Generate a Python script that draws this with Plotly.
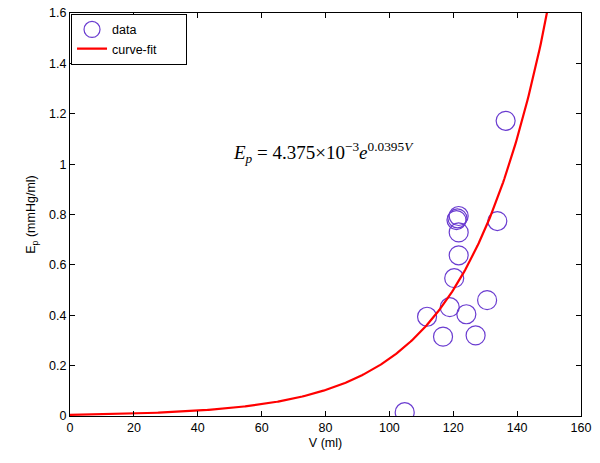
import numpy as np
import plotly.graph_objects as go

# Measured data points (V in ml, Ep in mmHg/ml)
volume_ml = [104.8, 111.8, 116.8, 118.9, 120.3, 121.7, 121.7, 121.0, 121.3, 121.7,
             124.1, 127.0, 130.6, 133.8, 136.4]
ep_values = [0.015, 0.394, 0.315, 0.432, 0.547, 0.638, 0.729, 0.778, 0.785, 0.794,
             0.404, 0.320, 0.460, 0.774, 1.172]

# Curve-fit parameters as given in the chart annotation: Ep = A * exp(B * V)
fit_A = 4.375e-3
fit_B = 0.0395
fit_V = np.linspace(0, 152, 400)
fit_E = fit_A * np.exp(fit_B * fit_V)

x_ticks = [0, 20, 40, 60, 80, 100, 120, 140, 160]
y_ticks = [0, 0.2, 0.4, 0.6, 0.8, 1.0, 1.2, 1.4, 1.6]
y_tick_text = ["0", "0.2", "0.4", "0.6", "0.8", "1", "1.2", "1.4", "1.6"]

fig = go.Figure()
fig.add_trace(go.Scatter(
    x=volume_ml, y=ep_values, mode="markers", name="data",
    marker=dict(symbol="circle-open", size=19, color="#6a3cd0", line=dict(width=1.2)),
))
fig.add_trace(go.Scatter(
    x=fit_V, y=fit_E, mode="lines", name="curve-fit\u00a0\u00a0\u00a0\u00a0\u00a0\u00a0\u00a0",
    line=dict(color="#ff0000", width=2.2),
))

axis_common = dict(
    showgrid=False, zeroline=False, showline=True, linecolor="black", linewidth=1,
    mirror="ticks", ticks="inside", ticklen=5, tickcolor="black", automargin=False,
    ticklabeloverflow="allow",
    tickfont=dict(family="Liberation Sans, Arial", size=12.5, color="black"),
)

fig.update_layout(
    width=600, height=463,
    margin=dict(l=69.5, r=18.5, t=13, b=47, autoexpand=False),
    paper_bgcolor="white", plot_bgcolor="white",
    font=dict(family="Liberation Sans, Arial", size=12, color="black"),
    xaxis=dict(range=[0, 160], tickvals=x_ticks,
               title=dict(text="V (ml)", standoff=4, font=dict(size=12.5)), **axis_common),
    yaxis=dict(range=[0, 1.6], tickvals=y_ticks, ticktext=y_tick_text,
               title=dict(text="E<sub>p</sub> (mmHg/ml)", standoff=10, font=dict(size=12.5)),
               **axis_common),
    legend=dict(x=0.002, y=0.998, xanchor="left", yanchor="top",
                bgcolor="white", bordercolor="black", borderwidth=1,
                font=dict(size=12.5), itemwidth=30, tracegroupgap=0),
    showlegend=True,
)

fig.add_annotation(
    x=0.496, y=0.655, xref="paper", yref="paper", showarrow=False,
    text="<i>E</i><sub><i>p</i></sub> = 4.375×10<sup>−3</sup><i>e</i><sup>0.0395<i>V</i></sup>",
    font=dict(family="Liberation Serif, Times New Roman", size=19, color="black"),
    xanchor="center", yanchor="middle",
)

# Remove the default page margin so the 600x463 figure fills the window exactly
fig.write_html("out.html", config={"displayModeBar": False},
               post_script="document.body.style.margin='0px';")
